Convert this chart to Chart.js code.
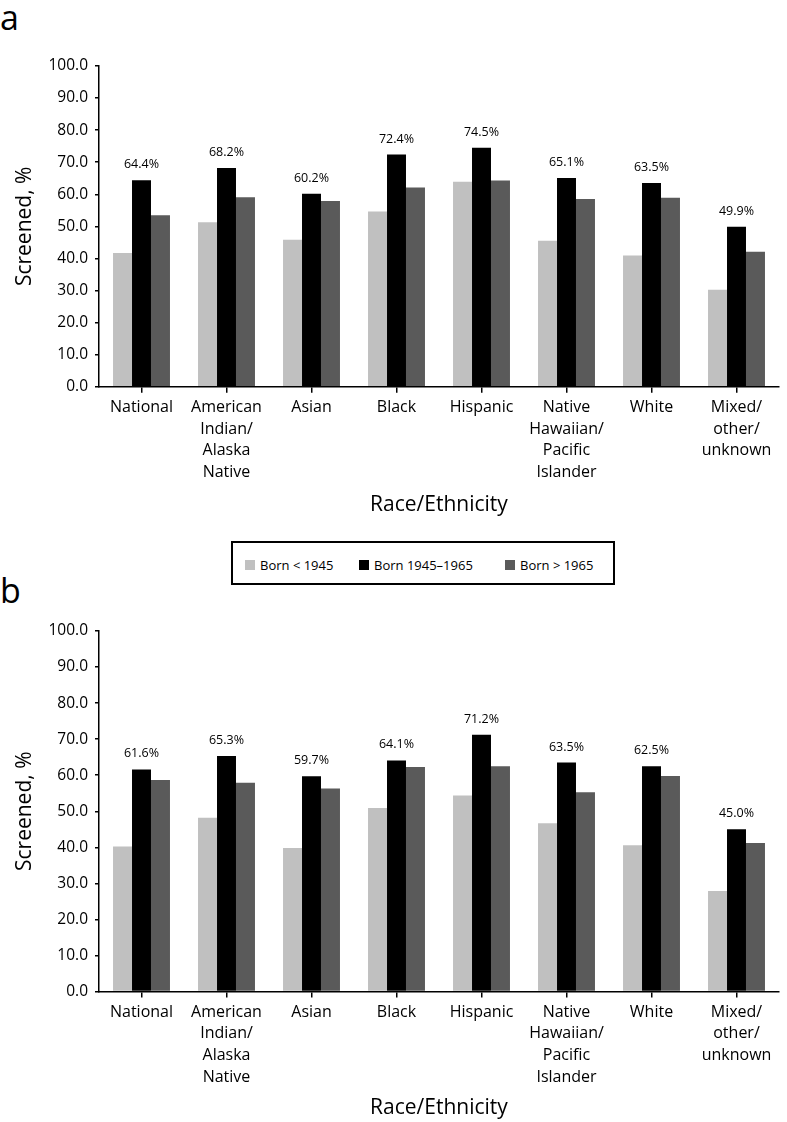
<!DOCTYPE html>
<html>
<head>
<meta charset="utf-8">
<script src="https://cdn.jsdelivr.net/npm/chart.js@4.4.1/dist/chart.umd.min.js"></script>
<style>
  body { margin: 0; background: #fff; font-family: 'Open Sans', sans-serif; }
  #page { position: relative; width: 787px; height: 1122px; }
  .panel { position: absolute; left: 0; font-size: 34px; line-height: 34px; color: #000; }
  .wrap { position: absolute; left: 0; width: 787px; }
  #legend {
    position: absolute; left: 231px; top: 541px; width: 380px; height: 40px;
    border: 2px solid #000; display: flex; align-items: center; font-size: 13px;
  }
  #legend span.sw { display: inline-block; width: 10px; height: 10px; margin-right: 5px; }
  #legend .item { position: absolute; top: 13px; display: flex; align-items: center; }
</style>
</head>
<body>
<div id="page">
  <div class="panel" style="top:0px">a</div>
  <div class="wrap" style="top:0px;height:530px"><canvas id="chartA"></canvas></div>
  <div id="legend"></div>
  <div class="panel" style="top:573px">b</div>
  <div class="wrap" style="top:586px;height:536px"><canvas id="chartB"></canvas></div>
</div>
<script>
  // categories and series
  const categories = [
    'National',
    ['American', 'Indian/', 'Alaska', 'Native'],
    'Asian',
    'Black',
    'Hispanic',
    ['Native', 'Hawaiian/', 'Pacific', 'Islander'],
    'White',
    ['Mixed/', 'other/', 'unknown']
  ]
  const seriesNames = ['Born < 1945', 'Born 1945\u20131965', 'Born > 1965']
  const seriesColors = ['#c0c0c0', '#000000', '#5a5a5a']

  // panel a
  const aBefore1945 = [41.7, 51.3, 45.8, 54.6, 63.9, 45.5, 40.9, 30.2]
  const aBoomers = [64.4, 68.2, 60.2, 72.4, 74.5, 65.1, 63.5, 49.9]
  const aAfter1965 = [53.5, 59.1, 57.9, 62.1, 64.3, 58.5, 58.9, 42.1]

  // panel b
  const bBefore1945 = [40.2, 48.2, 39.8, 50.9, 54.4, 46.7, 40.6, 27.9]
  const bBoomers = [61.6, 65.3, 59.7, 64.1, 71.2, 63.5, 62.5, 45.0]
  const bAfter1965 = [58.7, 57.9, 56.3, 62.3, 62.5, 55.3, 59.8, 41.2]

  const yTicks = [0, 10, 20, 30, 40, 50, 60, 70, 80, 90, 100]

  // html legend between the two panels
  const legend = document.getElementById('legend')
  const legendX = [12, 126, 272]
  seriesNames.forEach((name, i) => {
    const item = document.createElement('div')
    item.className = 'item'
    item.style.left = legendX[i] + 'px'
    item.innerHTML = `<span class="sw" style="background:${seriesColors[i]}"></span>${name}`
    legend.appendChild(item)
  })

  // labels above the middle (1945-1965) bars
  const valueLabels = {
    id: 'valueLabels',
    afterDatasetsDraw(chart) {
      const ctx = chart.ctx
      const meta = chart.getDatasetMeta(1)
      const data = chart.data.datasets[1].data
      ctx.save()
      ctx.font = '12.5px "Open Sans"'
      ctx.fillStyle = '#000'
      ctx.textAlign = 'center'
      ctx.textBaseline = 'alphabetic'
      meta.data.forEach((bar, i) => {
        ctx.fillText(data[i].toFixed(1) + '%', bar.x, bar.y - 12)
      })
      ctx.restore()
    }
  }

  function makeChart(id, values, padTop, padBottom, xHeight) {
    return new Chart(document.getElementById(id), {
      type: 'bar',
      data: {
        labels: categories,
        datasets: values.map((v, i) => ({
          label: seriesNames[i],
          data: v,
          backgroundColor: seriesColors[i],
          borderWidth: 0,
          barPercentage: 1,
          categoryPercentage: 0.67
        }))
      },
      options: {
        responsive: true,
        maintainAspectRatio: false,
        animation: false,
        layout: { padding: { left: 12, right: 8, top: padTop, bottom: padBottom } },
        plugins: { legend: { display: false }, tooltip: { enabled: false } },
        scales: {
          x: {
            grid: { drawOnChartArea: false, offset: false, tickLength: 6, color: '#000', lineWidth: 1.5 },
            border: { color: '#000', width: 1.5 },
            ticks: { color: '#000', padding: 4, maxRotation: 0, autoSkip: false,
                     font: { family: 'Open Sans', size: 16, lineHeight: 1.35 } },
            title: { display: true, text: 'Race/Ethnicity', color: '#000', padding: { top: 4, bottom: 0 },
                     font: { family: 'Open Sans', size: 21 } },
            afterFit(scale) { scale.height = xHeight }
          },
          y: {
            min: 0,
            max: 100,
            afterBuildTicks(scale) { scale.ticks = yTicks.map(v => ({ value: v })) },
            grid: { drawOnChartArea: false, tickLength: 4, color: '#000', lineWidth: 1.5 },
            border: { color: '#000', width: 1.5 },
            ticks: { color: '#000', padding: 7, font: { family: 'Open Sans', size: 15.5 },
                     callback: v => v.toFixed(1) },
            title: { display: true, text: 'Screened, %', color: '#000', padding: 0,
                     font: { family: 'Open Sans', size: 21 } },
            afterFit(scale) { scale.width = 87 }
          }
        }
      },
      plugins: [valueLabels]
    })
  }

  makeChart('chartA', [aBefore1945, aBoomers, aAfter1965], 66, 12, 131.3)
  makeChart('chartB', [bBefore1945, bBoomers, bAfter1965], 45, 1, 129.5)
</script>
</body>
</html>
